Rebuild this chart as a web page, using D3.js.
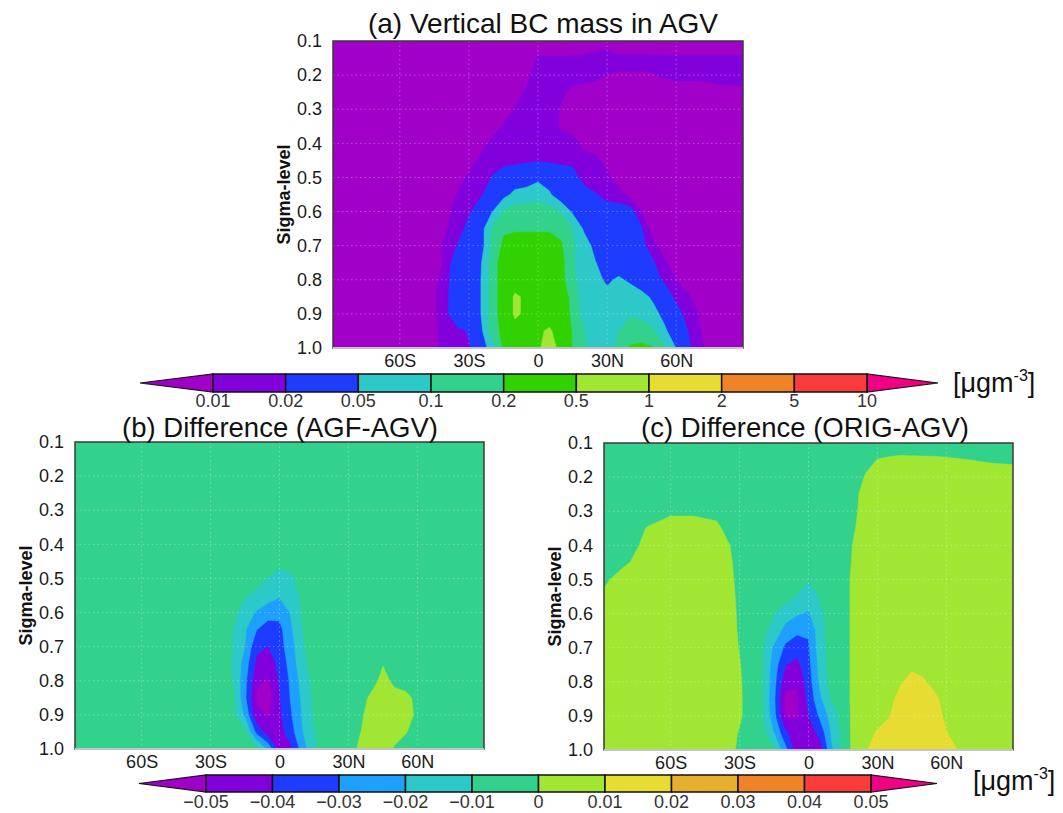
<!DOCTYPE html>
<html>
<head>
<meta charset="utf-8">
<script src="https://cdn.jsdelivr.net/npm/d3@7"></script>
<style>
  body { margin: 0; background: #fff; }
  svg { display: block; font-family: "Liberation Sans", Arial, Helvetica, sans-serif; }
</style>
</head>
<body>
<svg id="chart" width="1063" height="813"></svg>
<script>
// grid of the zonal-mean fields: latitude columns, sigma rows (top -> bottom)
const LATS = [-89, -80, -70, -60, -50, -40, -35, -30, -25, -20, -15, -10, -5, 0, 5,
              10, 15, 20, 25, 30, 35, 40, 45, 50, 55, 60, 65, 70, 80, 89];
const SIGMAS = [0.1, 0.15, 0.2, 0.25, 0.3, 0.35, 0.4, 0.45, 0.5, 0.55, 0.6, 0.65,
                0.7, 0.75, 0.8, 0.85, 0.9, 0.95, 1.0];

const SIGMA_TICKS = [0.1, 0.2, 0.3, 0.4, 0.5, 0.6, 0.7, 0.8, 0.9, 1.0];
const LAT_TICKS = [-60, -30, 0, 30, 60];
const LAT_LABELS = ["60S", "30S", "0", "30N", "60N"];

// contour levels and colours
const LEVELS_MASS = [0.01, 0.02, 0.05, 0.1, 0.2, 0.5, 1, 2, 5, 10];
const LABELS_MASS = ["0.01", "0.02", "0.05", "0.1", "0.2", "0.5", "1", "2", "5", "10"];
const COLORS_MASS = ["#a000c8", "#8200dc", "#1e3cff", "#2dc8c8", "#32d28c", "#32d200",
                     "#a0e632", "#e6dc32", "#f08228", "#fa3c3c", "#f00082"];

const LEVELS_DIFF = [-0.05, -0.04, -0.03, -0.02, -0.01, 0, 0.01, 0.02, 0.03, 0.04, 0.05];
const LABELS_DIFF = ["\u22120.05", "\u22120.04", "\u22120.03", "\u22120.02", "\u22120.01", "0",
                     "0.01", "0.02", "0.03", "0.04", "0.05"];
const COLORS_DIFF = ["#a000c8", "#8200dc", "#1e3cff", "#1ea0ff", "#2dc8c8", "#32d28c",
                     "#a0e632", "#e6dc32", "#e6af2d", "#f08228", "#fa3c3c", "#f00082"];

// (a) vertical BC mass in AGV [ugm-3]
const BC_AGV = [
  [.007,.007,.007,.007,.007,.007,.007,.007,.007,.007,.007,.007,.007,.007,.007,.007,.007,.007,.007,.007,.005,.005,.005,.005,.005,.005,.005,.005,.005,.005],
  [.007,.007,.007,.007,.007,.007,.007,.007,.007,.007,.007,.007,.007,.0105,.0105,.0105,.0105,.011,.012,.0135,.012,.012,.012,.0118,.0118,.0115,.0115,.0115,.0115,.0115],
  [.007,.007,.007,.007,.007,.007,.007,.007,.007,.007,.007,.007,.007,.019,.015,.015,.015,.014,.012,.0098,.0095,.0095,.0095,.0097,.0111,.012,.012,.012,.013,.014],
  [.007,.007,.007,.007,.007,.007,.007,.007,.007,.007,.007,.007,.0118,.015,.015,.012,.008,.007,.007,.007,.007,.007,.007,.007,.007,.007,.007,.007,.008,.0085],
  [.007,.007,.007,.007,.007,.007,.007,.007,.007,.007,.007,.0105,.015,.015,.015,.009,.007,.007,.007,.007,.007,.007,.007,.007,.007,.007,.007,.007,.007,.007],
  [.007,.007,.007,.007,.007,.007,.007,.007,.007,.007,.0107,.015,.015,.015,.015,.009,.007,.007,.007,.007,.007,.007,.007,.007,.007,.007,.007,.007,.007,.007],
  [.007,.007,.007,.007,.007,.007,.007,.007,.007,.0122,.015,.015,.015,.015,.015,.015,.015,.0071,.007,.007,.007,.007,.007,.007,.007,.007,.007,.007,.007,.007],
  [.007,.007,.007,.007,.007,.007,.007,.007,.0122,.015,.016,.017,.018,.019,.018,.017,.016,.015,.012,.008,.007,.007,.007,.007,.007,.007,.007,.007,.007,.007],
  [.007,.007,.007,.007,.007,.007,.007,.0118,.015,.0205,.03,.032,.035,.042,.035,.032,.03,.014,.014,.012,.007,.007,.007,.007,.007,.007,.007,.007,.007,.007],
  [.007,.007,.007,.007,.007,.007,.0105,.015,.018,.03,.04,.06,.065,.08,.055,.03,.03,.03,.021,.015,.013,.008,.007,.007,.007,.007,.007,.007,.007,.007],
  [.007,.007,.007,.007,.007,.008,.014,.018,.03,.048,.105,.14,.14,.14,.14,.095,.045,.03,.03,.03,.03,.03,.0098,.007,.007,.007,.007,.007,.007,.007],
  [.007,.007,.007,.007,.007,.0095,.014,.026,.035,.105,.18,.18,.18,.18,.18,.16,.098,.045,.03,.03,.03,.03,.022,.006,.007,.007,.007,.007,.007,.007],
  [.007,.007,.007,.007,.007,.011,.021,.03,.035,.11,.23,.3,.3,.3,.3,.22,.11,.07,.04,.03,.03,.03,.025,.013,.007,.007,.007,.007,.007,.007],
  [.007,.007,.007,.007,.007,.0106,.045,.035,.045,.13,.3,.32,.32,.32,.32,.25,.11,.065,.051,.035,.035,.035,.03,.022,.011,.007,.007,.007,.007,.007],
  [.007,.007,.007,.007,.005,.014,.045,.04,.048,.13,.3,.35,.35,.35,.35,.25,.12,.07,.06,.045,.055,.045,.035,.025,.018,.0098,.007,.007,.007,.007],
  [.007,.007,.007,.007,.005,.016,.045,.04,.048,.13,.3,.55,.45,.35,.33,.3,.16,.065,.06,.06,.06,.07,.06,.045,.03,.017,.011,.007,.007,.007],
  [.007,.007,.007,.007,.005,.016,.045,.04,.048,.13,.3,.55,.45,.38,.35,.32,.17,.078,.07,.07,.075,.095,.085,.06,.042,.028,.015,.0098,.007,.007],
  [.007,.007,.007,.007,.005,.014,.016,.022,.04,.13,.25,.4,.42,.45,.55,.35,.19,.101,.07,.07,.098,.13,.13,.11,.055,.035,.0205,.0102,.007,.007],
  [.007,.007,.007,.007,.005,.014,.016,.018,.035,.065,.22,.35,.4,.45,.7,.4,.195,.11,.07,.07,.12,.22,.24,.21,.11,.049,.025,.011,.007,.007]
];

// (b) difference AGF-AGV [ugm-3]
const DIFF_AGF = [
  [-.005,-.005,-.005,-.005,-.005,-.005,-.005,-.005,-.005,-.005,-.005,-.005,-.005,-.005,-.005,-.005,-.005,-.005,-.005,-.005,-.005,-.005,-.005,-.005,-.005,-.005,-.005,-.005,-.005,-.005],
  [-.005,-.005,-.005,-.005,-.005,-.005,-.005,-.005,-.005,-.005,-.005,-.005,-.005,-.005,-.005,-.005,-.005,-.005,-.005,-.005,-.005,-.005,-.005,-.005,-.005,-.005,-.005,-.005,-.005,-.005],
  [-.005,-.005,-.005,-.005,-.005,-.005,-.005,-.005,-.005,-.005,-.005,-.005,-.005,-.005,-.005,-.005,-.005,-.005,-.005,-.005,-.005,-.005,-.005,-.005,-.005,-.005,-.005,-.005,-.005,-.005],
  [-.005,-.005,-.005,-.005,-.005,-.005,-.005,-.005,-.005,-.005,-.005,-.005,-.005,-.005,-.005,-.005,-.005,-.005,-.005,-.005,-.005,-.005,-.005,-.005,-.005,-.005,-.005,-.005,-.005,-.005],
  [-.005,-.005,-.005,-.005,-.005,-.005,-.005,-.005,-.005,-.005,-.005,-.005,-.005,-.005,-.005,-.005,-.005,-.005,-.005,-.005,-.005,-.005,-.005,-.005,-.005,-.005,-.005,-.005,-.005,-.005],
  [-.005,-.005,-.005,-.005,-.005,-.005,-.005,-.005,-.005,-.005,-.005,-.005,-.005,-.005,-.005,-.005,-.005,-.005,-.005,-.005,-.005,-.005,-.005,-.005,-.005,-.005,-.005,-.005,-.005,-.005],
  [-.005,-.005,-.005,-.005,-.005,-.005,-.005,-.005,-.005,-.005,-.005,-.005,-.005,-.005,-.005,-.005,-.005,-.005,-.005,-.005,-.005,-.005,-.005,-.005,-.005,-.005,-.005,-.005,-.005,-.005],
  [-.005,-.005,-.005,-.005,-.005,-.005,-.005,-.005,-.005,-.005,-.005,-.005,-.005,-.005,-.005,-.005,-.005,-.005,-.005,-.005,-.005,-.005,-.005,-.005,-.005,-.005,-.005,-.005,-.005,-.005],
  [-.005,-.005,-.005,-.005,-.005,-.005,-.005,-.005,-.005,-.005,-.005,-.005,-.0105,-.0175,-.012,-.005,-.005,-.005,-.005,-.005,-.005,-.005,-.005,-.005,-.005,-.005,-.005,-.005,-.005,-.005],
  [-.005,-.005,-.005,-.005,-.005,-.005,-.005,-.005,-.005,-.005,-.009,-.013,-.016,-.019,-.015,-.008,-.005,-.005,-.005,-.005,-.005,-.005,-.005,-.005,-.005,-.005,-.005,-.005,-.005,-.005],
  [-.005,-.005,-.005,-.005,-.005,-.005,-.005,-.005,-.005,-.008,-.015,-.021,-.025,-.027,-.019,-.009,-.005,-.005,-.005,-.005,-.005,-.005,-.005,-.005,-.005,-.005,-.005,-.005,-.005,-.005],
  [-.005,-.005,-.005,-.005,-.005,-.005,-.005,-.005,-.006,-.0105,-.019,-.0295,-.036,-.033,-.0215,-.0102,-.005,-.005,-.005,-.005,-.005,-.005,-.005,-.005,-.005,-.005,-.005,-.005,-.005,-.005],
  [-.005,-.005,-.005,-.005,-.005,-.005,-.005,-.005,-.006,-.0105,-.0202,-.038,-.0402,-.034,-.024,-.011,-.005,-.005,-.005,-.005,-.005,-.005,-.005,-.005,-.005,-.005,-.005,-.005,-.005,-.005],
  [-.005,-.005,-.005,-.005,-.005,-.005,-.005,-.005,-.006,-.011,-.025,-.042,-.046,-.037,-.026,-.013,-.006,-.005,-.005,-.005,-.005,-.005,-.0005,-.005,-.005,-.005,-.005,-.005,-.005,-.005],
  [-.005,-.005,-.005,-.005,-.005,-.005,-.005,-.005,-.006,-.0105,-.027,-.048,-.051,-.039,-.028,-.016,-.007,-.005,-.005,-.005,-.005,-.004,.003,-.002,-.005,-.005,-.005,-.005,-.005,-.005],
  [-.005,-.005,-.005,-.005,-.005,-.005,-.005,-.005,-.005,-.009,-.028,-.052,-.056,-.0405,-.029,-.018,-.008,-.005,-.005,-.005,-.004,.002,.004,.003,.003,-.003,-.005,-.005,-.005,-.005],
  [-.005,-.005,-.005,-.005,-.005,-.005,-.005,-.005,-.005,-.008,-.022,-.047,-.051,-.042,-.031,-.019,-.009,-.005,-.005,-.005,-.002,.004,.005,.004,.004,-.002,-.005,-.005,-.005,-.005],
  [-.005,-.005,-.005,-.005,-.005,-.005,-.005,-.005,-.005,-.005,-.008,-.033,-.045,-.044,-.034,-.0205,-.0105,-.005,-.005,-.005,-.0005,.005,.005,.002,.0005,-.004,-.005,-.005,-.005,-.005],
  [-.005,-.005,-.005,-.005,-.005,-.005,-.005,-.005,-.005,-.005,-.005,-.007,-.022,-.045,-.042,-.025,-.012,-.005,-.005,-.005,.002,.004,.003,-.0005,-.004,-.005,-.005,-.005,-.005,-.005]
];

// (c) difference ORIG-AGV [ugm-3]
const DIFF_ORIG = [
  [-.005,-.005,-.005,-.005,-.005,-.005,-.005,-.005,-.005,-.005,-.005,-.005,-.005,-.005,-.005,-.005,-.005,-.005,-.005,-.005,-.005,-.005,-.005,-.005,-.005,-.005,-.005,-.005,-.005,-.005],
  [-.005,-.005,-.005,-.005,-.005,-.005,-.005,-.005,-.005,-.005,-.005,-.005,-.005,-.005,-.005,-.005,-.005,-.005,-.003,.0003,.0012,.0019,.0017,.0015,.0014,.001,.0005,.0001,-.0012,-.0018],
  [-.005,-.005,-.005,-.005,-.005,-.005,-.005,-.005,-.005,-.005,-.005,-.005,-.005,-.005,-.005,-.005,-.005,-.005,.001,.005,.005,.005,.005,.005,.005,.005,.005,.005,.005,.005],
  [-.005,-.005,-.005,-.005,-.005,-.005,-.005,-.005,-.005,-.005,-.005,-.005,-.005,-.005,-.005,-.005,-.005,-.003,.005,.005,.005,.005,.005,.005,.005,.005,.005,.005,.005,.005],
  [-.005,-.005,-.004,-.002,-.002,-.004,-.005,-.005,-.005,-.005,-.005,-.005,-.005,-.005,-.005,-.005,-.005,-.002,.005,.005,.005,.005,.005,.005,.005,.005,.005,.005,.005,.005],
  [-.005,-.005,.0005,.005,.005,.003,-.004,-.005,-.005,-.005,-.005,-.005,-.005,-.005,-.005,-.005,-.005,-.0005,.005,.005,.005,.005,.005,.005,.005,.005,.005,.005,.005,.005],
  [-.005,-.005,.003,.005,.005,.005,.001,-.005,-.005,-.005,-.005,-.005,-.005,-.005,-.005,-.005,-.005,.0011,.005,.005,.005,.005,.005,.005,.005,.005,.005,.005,.005,.005],
  [-.005,-.0015,.005,.005,.005,.005,.003,-.005,-.005,-.005,-.005,-.005,-.005,-.005,-.005,-.005,-.005,.0019,.005,.005,.005,.005,.005,.005,.005,.005,.005,.005,.005,.005],
  [-.002,.005,.005,.005,.005,.005,.004,-.004,-.005,-.005,-.005,-.005,-.007,-.009,-.007,-.005,-.005,.0033,.005,.005,.005,.005,.005,.005,.005,.005,.005,.005,.005,.005],
  [.002,.005,.005,.005,.005,.005,.005,-.003,-.005,-.005,-.005,-.007,-.0105,-.016,-.0095,-.005,-.005,.0033,.005,.005,.005,.005,.005,.005,.005,.005,.005,.005,.005,.005],
  [.005,.005,.005,.005,.005,.005,.005,-.002,-.005,-.005,-.0095,-.015,-.019,-.021,-.012,-.006,-.005,.0033,.005,.005,.005,.005,.005,.005,.005,.005,.005,.005,.005,.005],
  [.005,.005,.005,.005,.005,.005,.005,-.0015,-.005,-.008,-.013,-.024,-.028,-.029,-.014,-.005,-.005,.0033,.005,.005,.005,.005,.005,.005,.005,.005,.005,.005,.005,.005],
  [.005,.005,.005,.005,.005,.005,.005,-.0005,-.005,-.0095,-.022,-.032,-.036,-.031,-.015,-.005,-.005,.0033,.005,.005,.005,.005,.005,.005,.005,.005,.005,.005,.005,.005],
  [.005,.005,.005,.005,.005,.005,.005,.0005,-.005,-.0095,-.025,-.0395,-.043,-.033,-.016,-.005,-.005,.0033,.005,.005,.005,.006,.008,.007,.005,.005,.005,.005,.005,.005],
  [.005,.005,.005,.005,.005,.005,.005,.0012,-.005,-.0095,-.027,-.046,-.049,-.035,-.018,-.006,-.005,.0033,.005,.005,.006,.009,.013,.011,.007,.005,.005,.005,.005,.005],
  [.005,.005,.005,.005,.005,.005,.005,.0015,-.005,-.0098,-.028,-.053,-.052,-.037,-.022,-.009,-.005,.0033,.005,.005,.006,.014,.016,.015,.012,.006,.005,.005,.005,.005],
  [.005,.005,.005,.005,.005,.005,.005,.0015,-.005,-.009,-.027,-.051,-.051,-.0405,-.028,-.016,-.006,.0033,.005,.005,.0095,.015,.016,.015,.014,.008,.005,.005,.005,.005],
  [.005,.005,.005,.005,.005,.005,.005,-.001,-.005,-.006,-.0201,-.038,-.046,-.045,-.037,-.019,-.006,.0033,.005,.0115,.013,.015,.015,.015,.015,.0105,.006,.005,.005,.005],
  [.005,.005,.005,.005,.005,.005,.005,-.003,-.005,-.005,-.009,-.027,-.046,-.048,-.045,-.022,-.007,.0033,.0095,.013,.014,.014,.014,.014,.014,.014,.0098,.005,.005,.005]
];

const svg = d3.select("#chart");
const FONT_TICK = 18;

// panel layout
const panels = [
  { id: "a", title: "(a) Vertical BC mass in AGV", field: BC_AGV, levels: LEVELS_MASS,
    colors: COLORS_MASS, log: true, x0: 333, x1: 743, y0: 41, y1: 348,
    titleX: 543, titleY: 33, titleSize: 28 },
  { id: "b", title: "(b) Difference (AGF-AGV)", field: DIFF_AGF, levels: LEVELS_DIFF,
    colors: COLORS_DIFF, log: false, x0: 75, x1: 484, y0: 442, y1: 749,
    titleX: 280, titleY: 437, titleSize: 27.5 },
  { id: "c", title: "(c) Difference (ORIG-AGV)", field: DIFF_ORIG, levels: LEVELS_DIFF,
    colors: COLORS_DIFF, log: false, x0: 604, x1: 1013, y0: 443, y1: 750,
    titleX: 805, titleY: 436.5, titleSize: 27.5 }
];

function drawPanel(p) {
    const g = svg.append("g").attr("class", "panel-" + p.id);
    const n = LATS.length, m = SIGMAS.length;

    const x = d3.scaleLinear().domain([LATS[0], LATS[n - 1]]).range([p.x0, p.x1]);
    const y = d3.scaleLinear().domain([SIGMAS[0], SIGMAS[m - 1]]).range([p.y0, p.y1]);
    // grid index -> lat / sigma (the grid is not evenly spaced)
    const iLat = d3.scaleLinear().domain(d3.range(n)).range(LATS).clamp(true);
    const iSig = d3.scaleLinear().domain(d3.range(m)).range(SIGMAS).clamp(true);

    // mass is contoured on log values, the differences on raw values
    const f = p.log ? Math.log10 : (v => v);
    const values = p.field.flat().map(f);
    const bands = d3.contours()
        .size([n, m])
        .thresholds(p.levels.map(f))(values);

    const proj = d3.geoTransform({
        point(px, py) {
            this.stream.point(x(iLat(px - 0.5)), y(iSig(py - 0.5)));
        }
    });
    const path = d3.geoPath(proj);

    const clipId = "clip-" + p.id;
    g.append("clipPath").attr("id", clipId)
        .append("rect")
        .attr("x", p.x0).attr("y", p.y0)
        .attr("width", p.x1 - p.x0).attr("height", p.y1 - p.y0);

    const plot = g.append("g").attr("clip-path", `url(#${clipId})`);
    plot.append("rect")
        .attr("x", p.x0).attr("y", p.y0)
        .attr("width", p.x1 - p.x0).attr("height", p.y1 - p.y0)
        .attr("fill", p.colors[0]);
    plot.selectAll("path.band")
        .data(bands)
        .join("path")
        .attr("class", "band")
        .attr("d", path)
        .attr("fill", (d, i) => p.colors[i + 1])
        .attr("stroke", (d, i) => p.colors[i + 1])
        .attr("stroke-width", 0.5);

    // faint dotted grid
    plot.selectAll("line.hgrid")
        .data(SIGMA_TICKS.slice(1, -1))
        .join("line")
        .attr("x1", p.x0).attr("x2", p.x1)
        .attr("y1", d => y(d)).attr("y2", d => y(d))
        .attr("stroke", "#fff").attr("stroke-opacity", 0.3)
        .attr("stroke-dasharray", "1.5,3");
    plot.selectAll("line.vgrid")
        .data(LAT_TICKS)
        .join("line")
        .attr("y1", p.y0).attr("y2", p.y1)
        .attr("x1", d => x(d)).attr("x2", d => x(d))
        .attr("stroke", "#fff").attr("stroke-opacity", 0.3)
        .attr("stroke-dasharray", "1.5,3");

    // frame
    g.append("rect")
        .attr("x", p.x0).attr("y", p.y0)
        .attr("width", p.x1 - p.x0).attr("height", p.y1 - p.y0)
        .attr("fill", "none").attr("stroke", "#3a3a3a").attr("stroke-width", 1.5);
    g.append("line")
        .attr("x1", p.x0).attr("x2", p.x1)
        .attr("y1", p.y1).attr("y2", p.y1)
        .attr("stroke", "#c4c4c4").attr("stroke-width", 2);

    // axes
    const yAxis = g.append("g")
        .attr("transform", `translate(${p.x0},0)`)
        .call(d3.axisLeft(y).tickValues(SIGMA_TICKS).tickFormat(d3.format(".1f"))
            .tickSize(0).tickPadding(11));
    const xAxis = g.append("g")
        .attr("transform", `translate(0,${p.y1})`)
        .call(d3.axisBottom(x).tickValues(LAT_TICKS)
            .tickFormat((d, i) => LAT_LABELS[i]).tickSize(0).tickPadding(6));
    [yAxis, xAxis].forEach(a => {
        a.select(".domain").remove();
        a.selectAll("text")
            .attr("font-family", "'Liberation Sans', Arial, sans-serif")
            .attr("font-size", FONT_TICK)
            .attr("fill", "#1a1a1a");
    });

    g.append("text")
        .attr("x", p.titleX).attr("y", p.titleY)
        .attr("text-anchor", "middle")
        .attr("font-size", p.titleSize)
        .attr("fill", "#111")
        .text(p.title);

    g.append("text")
        .attr("transform", `translate(${p.x0 - 49},${(p.y0 + p.y1) / 2}) rotate(-90)`)
        .attr("text-anchor", "middle")
        .attr("dy", "0.35em")
        .attr("font-size", 18)
        .attr("font-weight", "bold")
        .attr("fill", "#111")
        .text("Sigma-level");
}

panels.forEach(drawPanel);

// label bars
const colorbars = [
  { labels: LABELS_MASS, colors: COLORS_MASS, x0: 213, x1: 867, y0: 374, y1: 392,
    tipL: 140, tipR: 938, labelY: 407, unitX: 953, unitY: 392 },
  { labels: LABELS_DIFF, colors: COLORS_DIFF, x0: 206, x1: 871, y0: 775, y1: 792,
    tipL: 139, tipR: 937, labelY: 808, unitX: 973, unitY: 790 }
];

function drawColorbar(cb) {
    const g = svg.append("g");
    const k = cb.labels.length;
    const x = d3.scaleLinear().domain([0, k - 1]).range([cb.x0, cb.x1]);
    const mid = (cb.y0 + cb.y1) / 2;

    g.append("path")
        .attr("d", d3.line()([[cb.tipL, mid], [x(0), cb.y0], [x(0), cb.y1]]) + "Z")
        .attr("fill", cb.colors[0]).attr("stroke", "#111").attr("stroke-width", 1.2);
    g.append("path")
        .attr("d", d3.line()([[cb.tipR, mid], [x(k - 1), cb.y0], [x(k - 1), cb.y1]]) + "Z")
        .attr("fill", cb.colors[k]).attr("stroke", "#111").attr("stroke-width", 1.2);

    g.selectAll("rect.seg")
        .data(d3.range(k - 1))
        .join("rect")
        .attr("class", "seg")
        .attr("x", i => x(i)).attr("width", i => x(i + 1) - x(i))
        .attr("y", cb.y0).attr("height", cb.y1 - cb.y0)
        .attr("fill", i => cb.colors[i + 1])
        .attr("stroke", "#111").attr("stroke-width", 1.5);

    g.selectAll("text.lab")
        .data(cb.labels)
        .join("text")
        .attr("class", "lab")
        .attr("x", (d, i) => x(i)).attr("y", cb.labelY)
        .attr("text-anchor", "middle")
        .attr("font-size", FONT_TICK)
        .attr("fill", "#333")
        .text(d => d);

    const unit = g.append("text")
        .attr("x", cb.unitX).attr("y", cb.unitY)
        .attr("font-size", 27)
        .attr("fill", "#111");
    unit.append("tspan").text("[\u03bcgm");
    unit.append("tspan").attr("dy", -11).attr("font-size", 16).text("-3");
    unit.append("tspan").attr("dy", 11).text("]");
}

colorbars.forEach(drawColorbar);
</script>
</body>
</html>
